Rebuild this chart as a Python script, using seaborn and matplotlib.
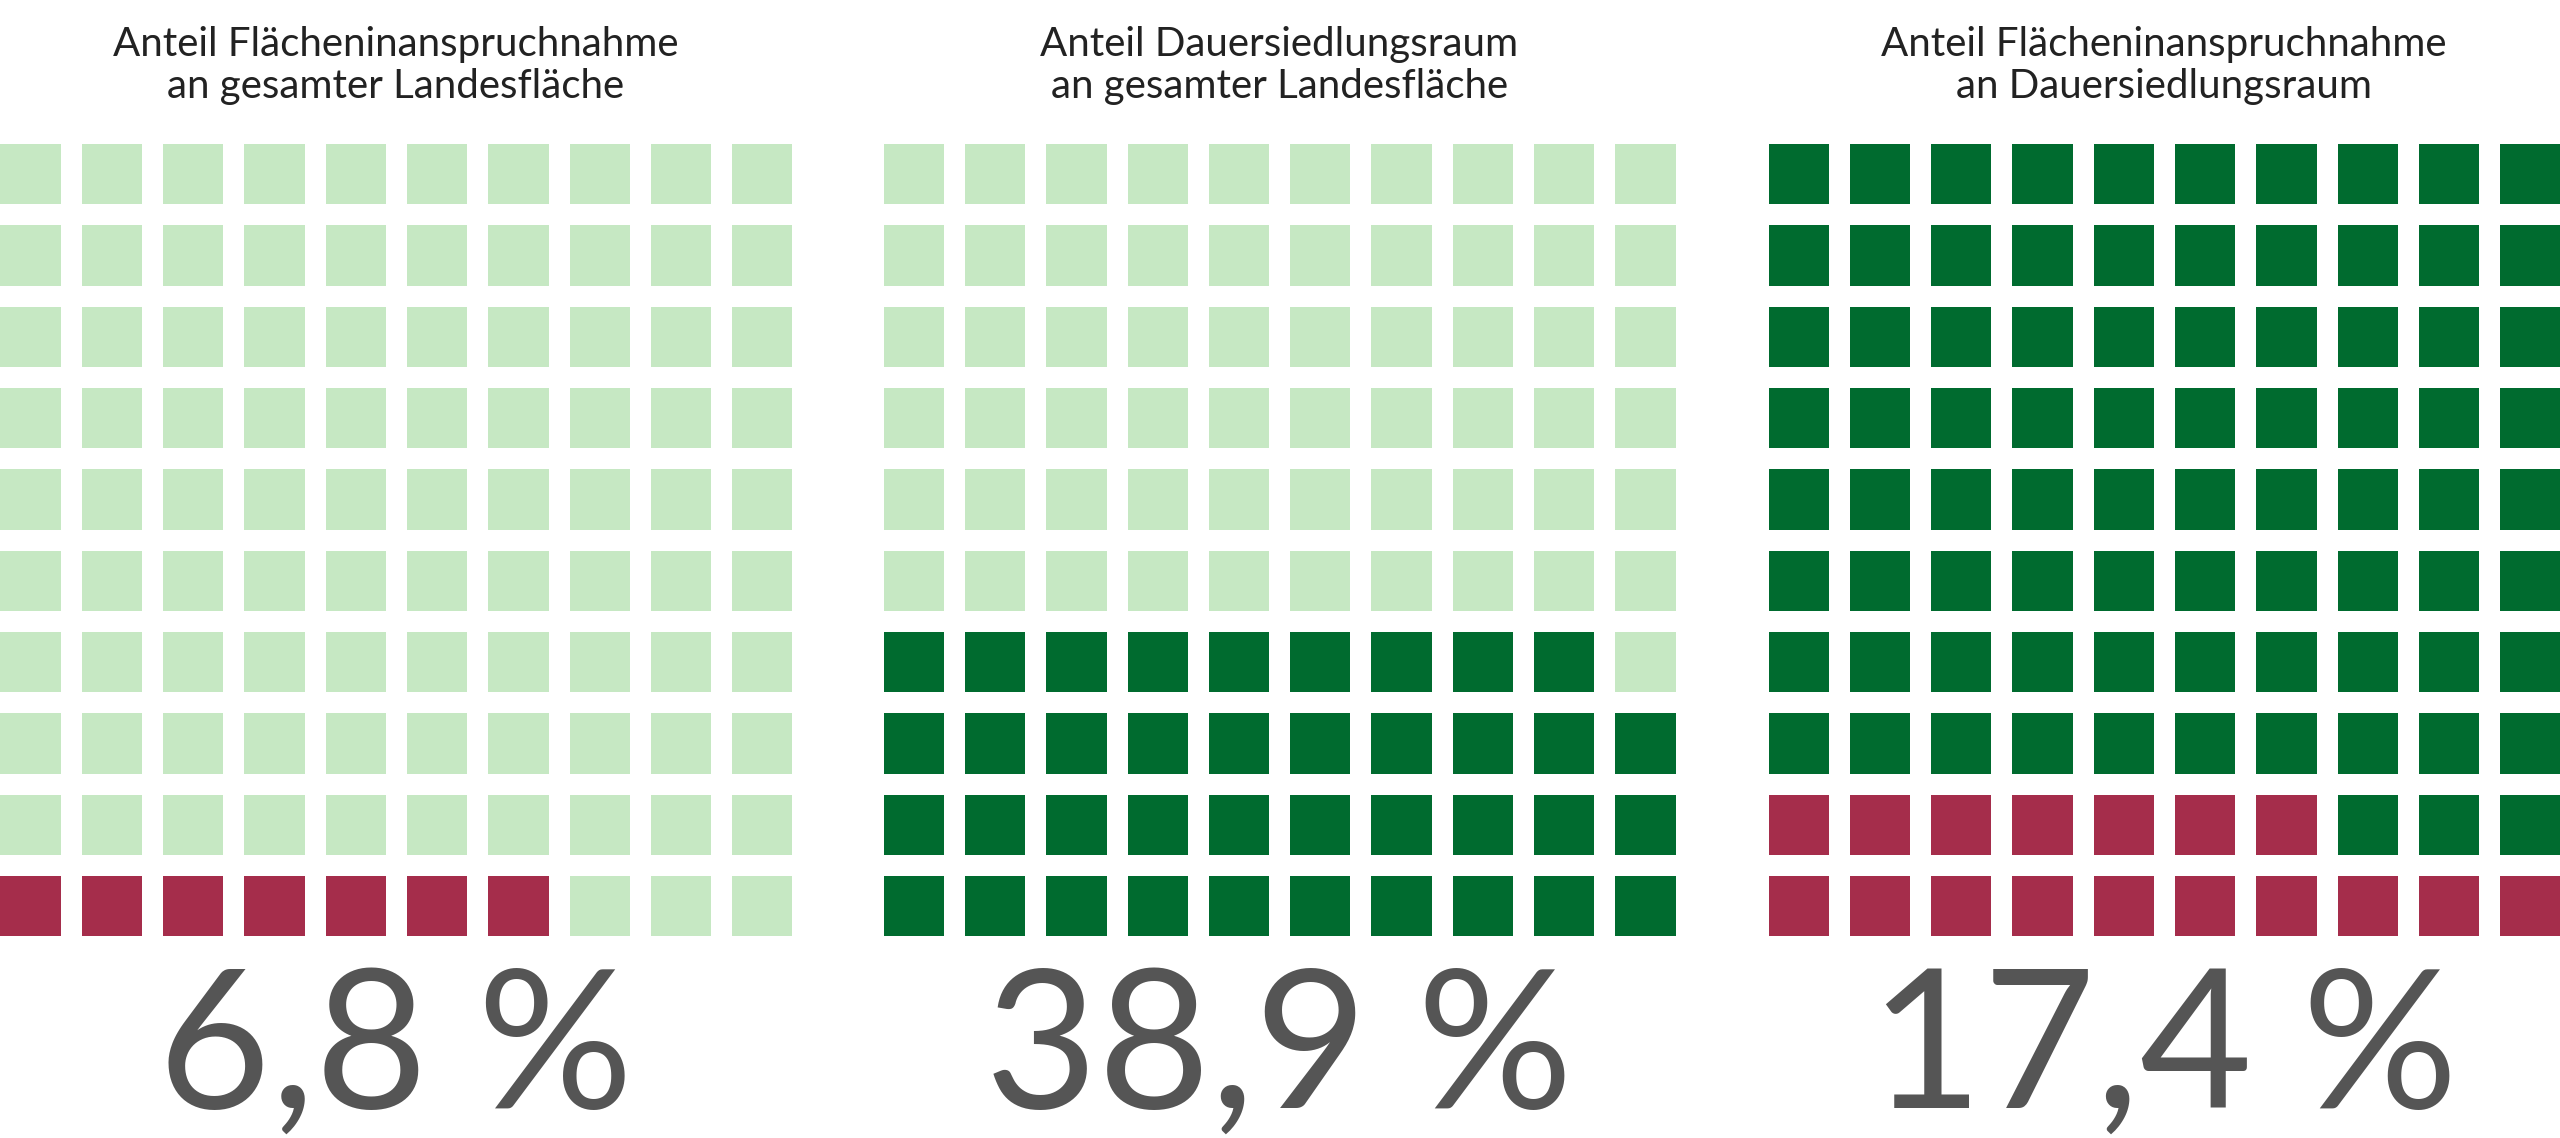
import numpy as np
import matplotlib
matplotlib.use('Agg')
import matplotlib.pyplot as plt
from matplotlib.colors import ListedColormap
import seaborn as sns

sns.set_theme(style='white')
plt.rcParams['font.family'] = ['Lato', 'DejaVu Sans']

titles = ['Anteil Flächeninanspruchnahme\nan gesamter Landesfläche',
          'Anteil Dauersiedlungsraum\nan gesamter Landesfläche',
          'Anteil Flächeninanspruchnahme\nan Dauersiedlungsraum']
labels = ['6,8 %', '38,9 %', '17,4 %']
# gefüllte Zellen (von unten links) und Farben: Hintergrund, Vordergrund
filled = [7, 39, 17]
colors = [('#c6e8c3', '#a52d4b'), ('#c6e8c3', '#006b2f'), ('#006b2f', '#a52d4b')]

fig = plt.figure(figsize=(25.6, 11.38), dpi=100)
lefts = [0, 541 / 1568, 1083 / 1568]
w = 485 / 1568
hx, hy = 6.5 / 1568, 6.5 / 697
bottom, top = 1 - 573 / 697, 1 - 88 / 697

for i in range(3):
    grid = np.zeros(100)
    grid[:filled[i]] = 1
    grid = grid.reshape(10, 10)[::-1]  # untere Reihe zuerst
    ax = fig.add_axes([lefts[i] - hx, bottom - hy, w + 2 * hx, top - bottom + 2 * hy])
    sns.heatmap(grid, ax=ax, cmap=ListedColormap(colors[i]), vmin=0, vmax=1,
                cbar=False, linewidths=15, linecolor='white', square=False)
    ax.set_xticks([]); ax.set_yticks([])
    cx = lefts[i] + w / 2
    fig.text(cx, 1 - 40 / 697, titles[i], ha='center', va='center',
             fontsize=29, color='#222222', linespacing=1.15)
    fig.text(cx, 1 - 645 / 697, labels[i], ha='center', va='center',
             fontsize=140, color='#555555')

fig.savefig('out.png', dpi=100, facecolor='white')
